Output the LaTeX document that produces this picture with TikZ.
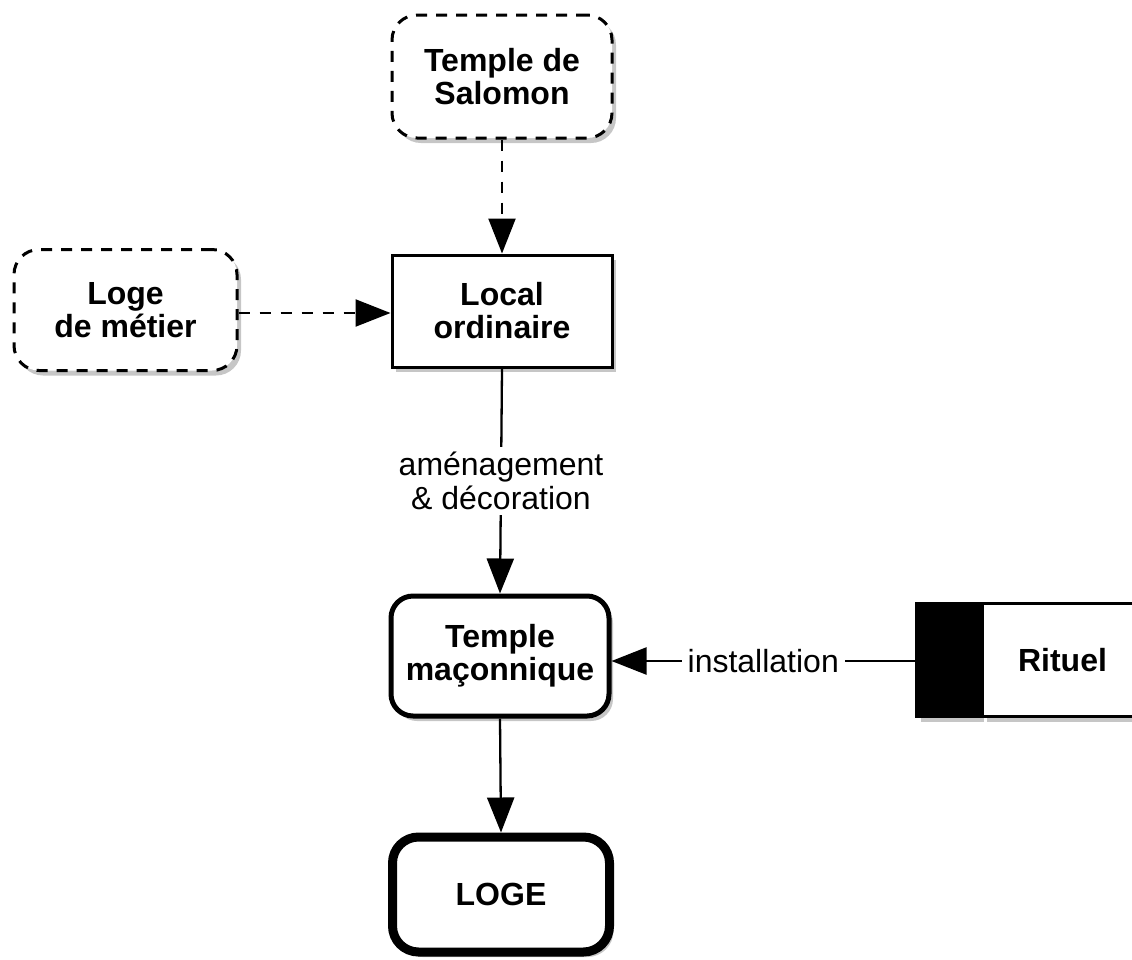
\documentclass[tikz,border=0pt]{standalone}
\usepackage{fontspec}
\setmainfont{Liberation Sans}
\usetikzlibrary{arrows.meta,shadows}
\tikzset{
  shad/.style={drop shadow={shadow xshift=4pt, shadow yshift=-5pt, opacity=0.45}},
  box/.style={font=\bfseries\fontsize{32}{33}\selectfont, align=center, fill=white, inner sep=0pt, shad},
  dbox/.style={box, draw, dash pattern=on 11pt off 9pt, line width=3pt, rounded corners=25pt},
  sbox/.style={box, draw, line width=3pt},
  rbox/.style={box, draw, line width=5pt, rounded corners=22pt},
  tbox/.style={box, draw, line width=9pt, rounded corners=26pt},
  conn/.style={line width=2.3pt, -{Triangle[length=35pt,width=27pt]}},
  dconn/.style={conn, dash pattern=on 11pt off 10pt},
  lab/.style={font=\fontsize{32}{34}\selectfont, align=center, fill=white, inner sep=5pt}
}
\begin{document}
\begin{tikzpicture}[x=1pt,y=-1pt]
\useasboundingbox (0,0) rectangle (1132,959);
\clip (0,0) rectangle (1132,959);
\node[dbox, minimum width=220pt, minimum height=123pt] (salomon) at (502,76.5) {Temple de\\Salomon};
\node[dbox, minimum width=223pt, minimum height=121pt] (metier) at (125.5,310) {Loge\\de métier};
\node[sbox, minimum width=220pt, minimum height=112pt] (local) at (502,311) {Local\\ordinaire};
\node[rbox, minimum width=218pt, minimum height=120pt] (temple) at (500,656) {Temple\\maçonnique};
\node[tbox, minimum width=217pt, minimum height=115pt] (loge) at (501,894.5) {LOGE};
\node[draw, line width=3pt, fill=black, minimum width=63pt, minimum height=113pt, inner sep=0pt, anchor=north west, shad] (rbar) at (915,602) {};
\node[sbox, minimum width=160pt, minimum height=113pt, anchor=west] (rituel) at (rbar.east) {Rituel};
\draw[dconn] (salomon.south) -- (local.north);
\draw[dconn] (metier.east |- 0,313) -- (local.west |- 0,313);
\draw[conn] (local.south) -- node[lab]{aménagement\\\& décoration} (temple.north);
\draw[conn] (temple.south) -- (loge.north);
\draw[conn] (rbar.west |- 0,661) -- node[lab, inner sep=6pt]{installation} (temple.east |- 0,661);
\end{tikzpicture}
\end{document}
